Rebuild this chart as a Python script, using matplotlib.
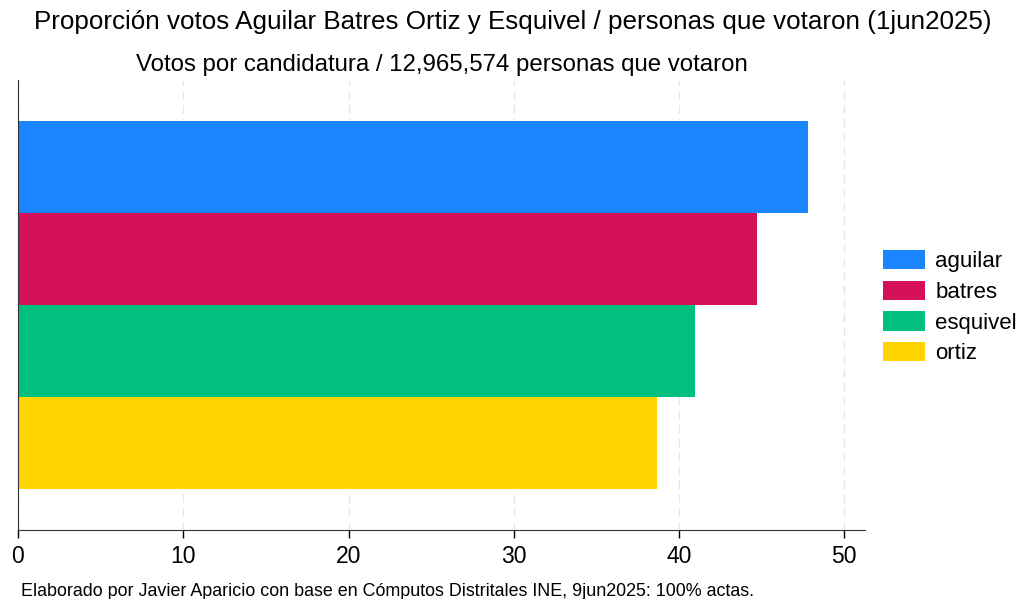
import numpy as np
import matplotlib
matplotlib.use("Agg")
import matplotlib.pyplot as plt
from matplotlib.patches import Patch

plt.rcParams['font.family'] = ['Liberation Sans', 'DejaVu Sans']

candidatos = ['aguilar', 'batres', 'esquivel', 'ortiz']
porcentaje = [47.79, 44.74, 40.97, 38.65]
colores = ['#1a85ff', '#d41159', '#00bf7f', '#ffd400']
xticks = [0, 10, 20, 30, 40, 50]

fig = plt.figure(figsize=(10.16, 5.99), dpi=100)
ax = fig.add_axes([18 / 1016, 1 - 530 / 599, (865 - 18) / 1016, (530 - 80) / 599])

pos = np.arange(len(candidatos))
ax.barh(pos, porcentaje, height=1.0, color=colores)
ax.set_ylim(3.94, -0.945)
ax.set_xlim(0, 51.25)

ax.set_xticks(xticks)
ax.tick_params(axis='x', direction='out', length=6, width=1, labelsize=16.5, pad=5)
ax.set_yticks([])
for s in ['top', 'right']:
    ax.spines[s].set_visible(False)
ax.spines['left'].set_color('#333333')
ax.spines['bottom'].set_color('#333333')
ax.grid(axis='x', linestyle=(0, (6, 4)), color='#e6e6e6', linewidth=1)
ax.set_axisbelow(True)

handles = [Patch(facecolor=c, label=n) for c, n in zip(colores, candidatos)]
ax.legend(handles=handles, loc='center left', bbox_to_anchor=(1.0213, 0.495),
          frameon=False, fontsize=16, handlelength=1.9, handleheight=0.95,
          labelspacing=0.38, handletextpad=0.45, borderpad=0, borderaxespad=0)

fig.text(0.505, 0.963, 'Proporción votos Aguilar Batres Ortiz y Esquivel / personas que votaron (1jun2025)',
         ha='center', va='center', fontsize=18.7)
fig.text(0.4346, 0.892, 'Votos por candidatura / 12,965,574 personas que votaron',
         ha='center', va='center', fontsize=17.3)
fig.text(0.021, 0.013, 'Elaborado por Javier Aparicio con base en Cómputos Distritales INE, 9jun2025: 100% actas.',
         ha='left', va='center', fontsize=12.9)

fig.savefig('out.png', dpi=100)
